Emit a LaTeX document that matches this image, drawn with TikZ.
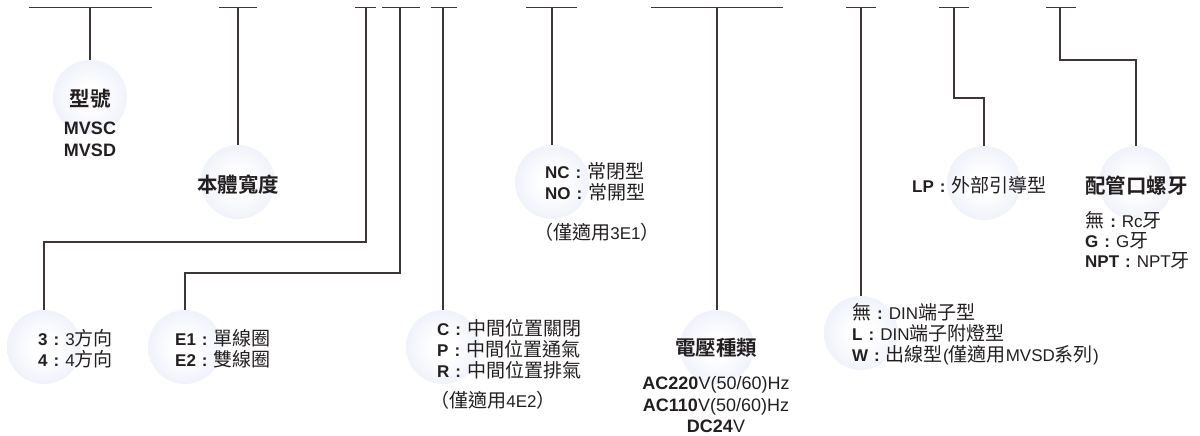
\documentclass[tikz,border=0pt]{standalone}
\usepackage{fontspec}
\setmainfont{Liberation Sans}
\newfontfamily\cjk[Scale=1.12,BoldFont={Noto Sans CJK TC Bold}]{Noto Sans CJK TC}
\definecolor{bubbleblue}{RGB}{218,224,245}
\definecolor{ink}{RGB}{35,31,32}
\definecolor{wire}{RGB}{62,54,52}
\pgfdeclareradialshading{bubble}{\pgfpoint{0bp}{0bp}}{color(0bp)=(white); color(8bp)=(white); color(50bp)=(bubbleblue); color(100bp)=(bubbleblue)}
\newcommand{\zh}[1]{{\cjk #1}}
\newcommand{\sepmark}{\hspace{6pt}\textbf{:}\hspace{6pt}}
\tikzset{
  bar/.style={draw=wire, line width=1.4pt},
  lead/.style={draw=wire, line width=1.3pt},
  ball/.style={circle, minimum size=74pt, inner sep=0pt, shading=bubble},
  head/.style={font=\cjk\bfseries\fontsize{18.3}{22}\selectfont, text=ink, inner sep=0pt},
  code/.style={font=\bfseries\fontsize{18}{21.5}\selectfont, text=ink, align=center, inner sep=0pt},
  desc/.style={font=\fontsize{17}{21}\selectfont, text=ink, align=left, anchor=west, inner sep=0pt},
}
\begin{document}
\begin{tikzpicture}[x=1pt,y=-1pt]
		%%%%% FRAME %%%%%
		\useasboundingbox (0,0) rectangle (1200,436);
		
		%%%%% TOP BARS %%%%%
		\foreach \l/\r/\s/\n in {29/152/90/1, 219/257/238/2, 355/376/366/3, 382/420/400/4, 431/457/443/5,
		  526/577/552/6, 651/783/717/7, 846/876/861/8, 939/969/954/9, 1046/1076/1060/10}{
		  \draw[bar] (\l,7.5) -- (\r,7.5);
		  \coordinate (top\n) at (\s,7.5);
		}
		
		%%%%% BALLS %%%%%
		\node[ball] (ball1) at (90,97) {};
		\node[ball] (ball2) at (238,182) {};
		\node[ball] (ball3) at (44,347) {};
		\node[ball] (ball4) at (185,347) {};
		\node[ball] (ball5) at (443,347) {};
		\node[ball] (ball6) at (552,182) {};
		\node[ball] (ball7) at (717,347) {};
		\node[ball] (ball8) at (861,333) {};
		\node[ball] (ball9) at (984,183) {};
		\node[ball] (ball10) at (1136,183) {};
		
		%%%%% LEADS %%%%%
		\draw[lead] (top1) -- (ball1.north);
		\draw[lead] (top2) -- (ball2.north);
		\draw[lead] (top3) -- ++(0,234.5) -| (ball3.north);
		\draw[lead] (top4) -- ++(0,265.5) -| (ball4.north);
		\draw[lead] (top5) -- (ball5.north);
		\draw[lead] (top6) -- (ball6.north);
		\draw[lead] (top7) -- (ball7.north);
		\draw[lead] (top8) -- (ball8.north);
		\draw[lead] (top9) -- ++(0,90.5) -| (ball9.north);
		\draw[lead] (top10) -- ++(0,52.5) -| (ball10.north);
		
		%%%%% TEXTS %%%%%
		\node[head] (model) at (90,99) {型號};
		\node[code] (modelcodes) at (90,139.5) {MVSC\\MVSD};
		\node[head] (width) at (238,185) {本體寬度};
		\node[desc] (ways) at (38,348.5) {\textbf{3}\sepmark 3\zh{方向}\\\textbf{4}\sepmark 4\zh{方向}};
		\node[desc] (coil) at (175,348.5) {\textbf{E1}\sepmark\zh{單線圈}\\\textbf{E2}\sepmark\zh{雙線圈}};
		\node[desc] (center) at (437,349) {\textbf{C}\sepmark\zh{中間位置關閉}\\\textbf{P}\sepmark\zh{中間位置通氣}\\\textbf{R}\sepmark\zh{中間位置排氣}};
		\node[desc] (centernote) at (430,400) {\zh{（僅適用}4E2\zh{）}};
		\node[desc] (normal) at (545,182) {\textbf{NC}\sepmark\zh{常閉型}\\\textbf{NO}\sepmark\zh{常開型}};
		\node[desc] (normalnote) at (534,232) {\zh{（僅適用}3E1\zh{）}};
		\node[head] (voltage) at (716,348) {電壓種類};
		\node[code] (voltcodes) at (716,405) {AC220\mdseries V(50/60)Hz\\AC110\mdseries V(50/60)Hz\\DC24\mdseries V};
		\node[desc] (wiring) at (852,334) {\zh{無}\sepmark DIN\zh{端子型}\\\textbf{L}\sepmark DIN\zh{端子附燈型}\\\textbf{W}\sepmark\zh{出線型}(\zh{僅適用}MVSD\zh{系列})};
		\node[desc] (pilot) at (912,185) {\textbf{LP}\sepmark\zh{外部引導型}};
		\node[head, anchor=west] (thread) at (1085,186) {配管口螺牙};
		\node[desc, font=\fontsize{17}{20}\selectfont] (threadcodes) at (1085,240) {\zh{無}\sepmark Rc\zh{牙}\\\textbf{G}\sepmark G\zh{牙}\\\textbf{NPT}\sepmark NPT\zh{牙}};
\end{tikzpicture}
\end{document}
